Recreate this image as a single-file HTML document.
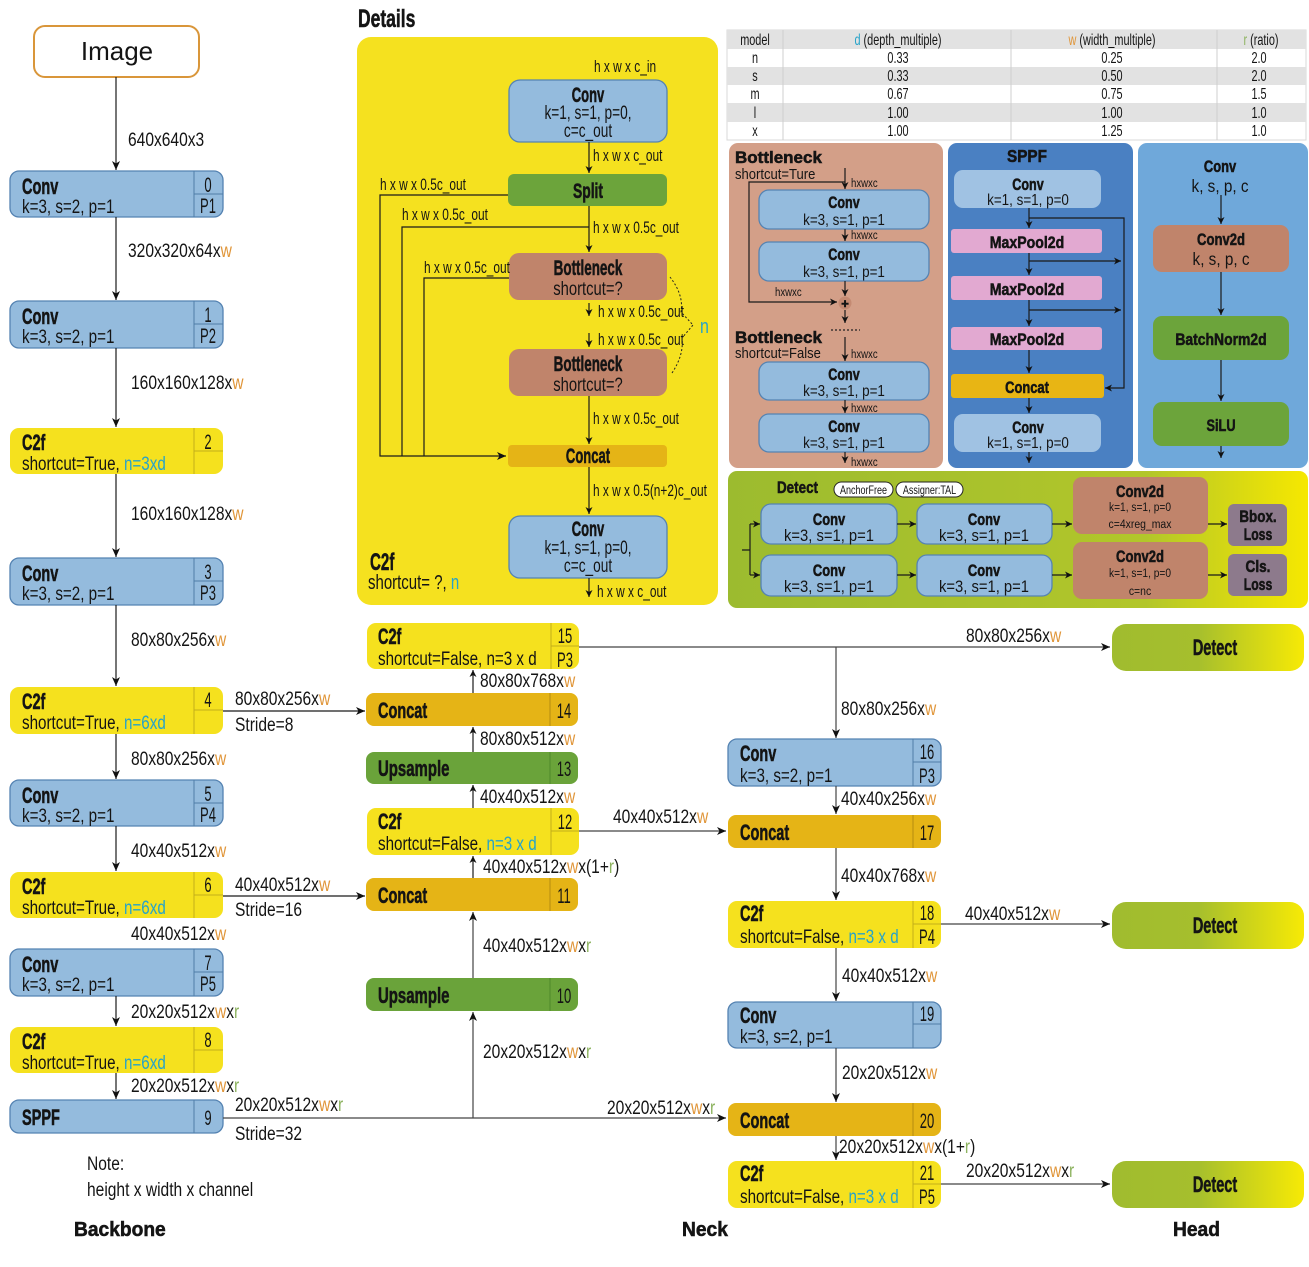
<!DOCTYPE html>
<html><head><meta charset="utf-8"><style>
html,body{margin:0;padding:0;background:#fff;}
svg{display:block;}
text{font-family:"Liberation Sans",sans-serif;fill:#141414;}
.B{font-weight:bold;stroke:#141414;stroke-width:0.55;}
.w{fill:#E0963A;stroke:none;} .r{fill:#8DB35F;stroke:none;} .n{fill:#27A3C9;stroke:none;}
.l{stroke:#1a1a1a;stroke-width:1.2;fill:none;}
.g{stroke:#444;stroke-width:1.2;fill:none;}
.cv{fill:#94BBDD;stroke:#5583B2;stroke-width:1.3;}
.cf{fill:#F5E11E;}
.ct{fill:#E5B416;}
.up{fill:#6AA33A;}
.dv{stroke:#4F7EA8;stroke-width:1;}
.dy{stroke:#C2AE1A;stroke-width:1;}
.dc{stroke:#B58C10;stroke-width:1;}
.dg{stroke:#4D8A2A;stroke-width:1;}
.tb text{font-size:16px;text-anchor:middle;}
</style></head><body>
<svg width="1309" height="1267" viewBox="0 0 1309 1267" xmlns="http://www.w3.org/2000/svg">
<defs>
<marker id="a" markerWidth="10" markerHeight="10" refX="9" refY="5" orient="auto" markerUnits="userSpaceOnUse"><path d="M0,1 L9,5 L0,9 L2.5,5z" fill="#111"/></marker>
<marker id="m" markerWidth="8" markerHeight="8" refX="7" refY="4" orient="auto" markerUnits="userSpaceOnUse"><path d="M0,0.5 L7,4 L0,7.5 L2,4z" fill="#111"/></marker>
<linearGradient id="gd" x1="0" x2="1" y1="0" y2="0"><stop offset="0" stop-color="#A0BC2F"/><stop offset="0.45" stop-color="#A6BF2D"/><stop offset="1" stop-color="#F7EA05"/></linearGradient>
<linearGradient id="gp" x1="0" x2="1" y1="0" y2="0"><stop offset="0" stop-color="#9CBB2F"/><stop offset="0.72" stop-color="#B2C62A"/><stop offset="1" stop-color="#F6E800"/></linearGradient>
</defs>

<!-- ============ BACKBONE ============ -->
<rect x="34" y="26" width="165" height="51" rx="11" fill="#fff" stroke="#D9963A" stroke-width="2"/>
<text font-size="26" text-anchor="middle" transform="translate(117,60)">Image</text>

<path class="l" d="M116,77 V170" marker-end="url(#a)"/>
<text font-size="19" transform="translate(128,146) scale(.82,1)">640x640x3</text>

<rect class="cv" x="10" y="171" width="213" height="46" rx="9"/>
<line class="dv" x1="194" y1="171" x2="194" y2="217"/><line class="dv" x1="194" y1="194" x2="223" y2="194"/>
<text class="B" font-size="22" transform="translate(22,194) scale(.66,1)">Conv</text>
<text font-size="19" transform="translate(22,213) scale(.8,1)">k=3, s=2, p=1</text>
<text font-size="21" text-anchor="middle" transform="translate(208,192) scale(.62,1)">0</text>
<text font-size="21" text-anchor="middle" transform="translate(208,213) scale(.62,1)">P1</text>

<path class="l" d="M116,217 V300" marker-end="url(#a)"/>
<text font-size="19" transform="translate(128,257) scale(.82,1)">320x320x64x<tspan class="w">w</tspan></text>

<rect class="cv" x="10" y="301" width="213" height="47" rx="9"/>
<line class="dv" x1="194" y1="301" x2="194" y2="348"/><line class="dv" x1="194" y1="324" x2="223" y2="324"/>
<text class="B" font-size="22" transform="translate(22,324) scale(.66,1)">Conv</text>
<text font-size="19" transform="translate(22,343) scale(.8,1)">k=3, s=2, p=1</text>
<text font-size="21" text-anchor="middle" transform="translate(208,322) scale(.62,1)">1</text>
<text font-size="21" text-anchor="middle" transform="translate(208,343) scale(.62,1)">P2</text>

<path class="l" d="M116,348 V427" marker-end="url(#a)"/>
<text font-size="19" transform="translate(131,389) scale(.82,1)">160x160x128x<tspan class="w">w</tspan></text>

<rect class="cf" x="10" y="428" width="213" height="46" rx="9"/>
<line class="dy" x1="194" y1="428" x2="194" y2="474"/><line class="dy" x1="194" y1="451" x2="223" y2="451"/>
<text class="B" font-size="22" transform="translate(22,450) scale(.66,1)">C2f</text>
<text font-size="19" transform="translate(22,470) scale(.8,1)">shortcut=True, <tspan class="n">n=3xd</tspan></text>
<text font-size="21" text-anchor="middle" transform="translate(208,449) scale(.62,1)">2</text>

<path class="l" d="M116,474 V557" marker-end="url(#a)"/>
<text font-size="19" transform="translate(131,520) scale(.82,1)">160x160x128x<tspan class="w">w</tspan></text>

<rect class="cv" x="10" y="558" width="213" height="47" rx="9"/>
<line class="dv" x1="194" y1="558" x2="194" y2="605"/><line class="dv" x1="194" y1="581" x2="223" y2="581"/>
<text class="B" font-size="22" transform="translate(22,581) scale(.66,1)">Conv</text>
<text font-size="19" transform="translate(22,600) scale(.8,1)">k=3, s=2, p=1</text>
<text font-size="21" text-anchor="middle" transform="translate(208,579) scale(.62,1)">3</text>
<text font-size="21" text-anchor="middle" transform="translate(208,600) scale(.62,1)">P3</text>

<path class="l" d="M116,605 V686" marker-end="url(#a)"/>
<text font-size="19" transform="translate(131,646) scale(.82,1)">80x80x256x<tspan class="w">w</tspan></text>

<rect class="cf" x="10" y="687" width="213" height="47" rx="9"/>
<line class="dy" x1="194" y1="687" x2="194" y2="734"/><line class="dy" x1="194" y1="710" x2="223" y2="710"/>
<text class="B" font-size="22" transform="translate(22,709) scale(.66,1)">C2f</text>
<text font-size="19" transform="translate(22,729) scale(.8,1)">shortcut=True, <tspan class="n">n=6xd</tspan></text>
<text font-size="21" text-anchor="middle" transform="translate(208,707) scale(.62,1)">4</text>
<path class="l" d="M223,711 H365" marker-end="url(#a)"/>
<text font-size="19" transform="translate(235,705) scale(.82,1)">80x80x256x<tspan class="w">w</tspan></text>
<text font-size="19" transform="translate(235,731) scale(.82,1)">Stride=8</text>

<path class="l" d="M116,734 V779" marker-end="url(#a)"/>
<text font-size="19" transform="translate(131,765) scale(.82,1)">80x80x256x<tspan class="w">w</tspan></text>

<rect class="cv" x="10" y="780" width="213" height="46" rx="9"/>
<line class="dv" x1="194" y1="780" x2="194" y2="826"/><line class="dv" x1="194" y1="803" x2="223" y2="803"/>
<text class="B" font-size="22" transform="translate(22,803) scale(.66,1)">Conv</text>
<text font-size="19" transform="translate(22,822) scale(.8,1)">k=3, s=2, p=1</text>
<text font-size="21" text-anchor="middle" transform="translate(208,801) scale(.62,1)">5</text>
<text font-size="21" text-anchor="middle" transform="translate(208,822) scale(.62,1)">P4</text>

<path class="l" d="M116,826 V871" marker-end="url(#a)"/>
<text font-size="19" transform="translate(131,857) scale(.82,1)">40x40x512x<tspan class="w">w</tspan></text>

<rect class="cf" x="10" y="872" width="213" height="46" rx="9"/>
<line class="dy" x1="194" y1="872" x2="194" y2="918"/><line class="dy" x1="194" y1="895" x2="223" y2="895"/>
<text class="B" font-size="22" transform="translate(22,894) scale(.66,1)">C2f</text>
<text font-size="19" transform="translate(22,914) scale(.8,1)">shortcut=True, <tspan class="n">n=6xd</tspan></text>
<text font-size="21" text-anchor="middle" transform="translate(208,892) scale(.62,1)">6</text>
<path class="l" d="M223,896 H365" marker-end="url(#a)"/>
<text font-size="19" transform="translate(235,891) scale(.82,1)">40x40x512x<tspan class="w">w</tspan></text>
<text font-size="19" transform="translate(235,916) scale(.82,1)">Stride=16</text>

<text font-size="19" transform="translate(131,940) scale(.82,1)">40x40x512x<tspan class="w">w</tspan></text>

<rect class="cv" x="10" y="949" width="213" height="47" rx="9"/>
<line class="dv" x1="194" y1="949" x2="194" y2="996"/><line class="dv" x1="194" y1="972" x2="223" y2="972"/>
<text class="B" font-size="22" transform="translate(22,972) scale(.66,1)">Conv</text>
<text font-size="19" transform="translate(22,991) scale(.8,1)">k=3, s=2, p=1</text>
<text font-size="21" text-anchor="middle" transform="translate(208,970) scale(.62,1)">7</text>
<text font-size="21" text-anchor="middle" transform="translate(208,991) scale(.62,1)">P5</text>

<path class="l" d="M116,996 V1026" marker-end="url(#a)"/>
<text font-size="19" transform="translate(131,1018) scale(.82,1)">20x20x512x<tspan class="w">w</tspan>x<tspan class="r">r</tspan></text>

<rect class="cf" x="10" y="1027" width="213" height="46" rx="9"/>
<line class="dy" x1="194" y1="1027" x2="194" y2="1073"/><line class="dy" x1="194" y1="1050" x2="223" y2="1050"/>
<text class="B" font-size="22" transform="translate(22,1049) scale(.66,1)">C2f</text>
<text font-size="19" transform="translate(22,1069) scale(.8,1)">shortcut=True, <tspan class="n">n=6xd</tspan></text>
<text font-size="21" text-anchor="middle" transform="translate(208,1047) scale(.62,1)">8</text>

<path class="l" d="M116,1073 V1099" marker-end="url(#a)"/>
<text font-size="19" transform="translate(131,1092) scale(.82,1)">20x20x512x<tspan class="w">w</tspan>x<tspan class="r">r</tspan></text>

<rect class="cv" x="10" y="1100" width="213" height="33" rx="9"/>
<line class="dv" x1="194" y1="1100" x2="194" y2="1133"/>
<text class="B" font-size="22" transform="translate(22,1125) scale(.66,1)">SPPF</text>
<text font-size="21" text-anchor="middle" transform="translate(208,1125) scale(.62,1)">9</text>
<path class="g" d="M223,1118 H726" marker-end="url(#a)"/>
<text font-size="19" transform="translate(235,1111) scale(.82,1)">20x20x512x<tspan class="w">w</tspan>x<tspan class="r">r</tspan></text>
<text font-size="19" transform="translate(235,1140) scale(.82,1)">Stride=32</text>

<text font-size="19" transform="translate(87,1170) scale(.82,1)">Note:</text>
<text font-size="19" transform="translate(87,1196) scale(.82,1)">height x width x channel</text>
<text class="B" font-size="20" transform="translate(74,1236) scale(.96,1)">Backbone</text>

<!-- ============ NECK LEFT ============ -->
<rect class="cf" x="367" y="623" width="212" height="46" rx="9"/>
<line class="dy" x1="551" y1="623" x2="551" y2="669"/><line class="dy" x1="551" y1="646" x2="579" y2="646"/>
<text class="B" font-size="22" transform="translate(378,644) scale(.66,1)">C2f</text>
<text font-size="19" transform="translate(378,665) scale(.8,1)">shortcut=False, n=3 x d</text>
<text font-size="21" text-anchor="middle" transform="translate(565,643) scale(.62,1)">15</text>
<text font-size="21" text-anchor="middle" transform="translate(565,667) scale(.62,1)">P3</text>

<path class="l" d="M473,693 V670" marker-end="url(#m)"/>
<text font-size="19" transform="translate(480,687) scale(.82,1)">80x80x768x<tspan class="w">w</tspan></text>

<rect class="ct" x="366" y="693" width="212" height="33" rx="8"/>
<line class="dc" x1="550" y1="693" x2="550" y2="726"/>
<text class="B" font-size="22" transform="translate(378,718) scale(.66,1)">Concat</text>
<text font-size="21" text-anchor="middle" transform="translate(564,718) scale(.62,1)">14</text>

<path class="l" d="M473,752 V727" marker-end="url(#m)"/>
<text font-size="19" transform="translate(480,745) scale(.82,1)">80x80x512x<tspan class="w">w</tspan></text>

<rect class="up" x="366" y="752" width="212" height="32" rx="8"/>
<line class="dg" x1="550" y1="752" x2="550" y2="784"/>
<text class="B" font-size="22" transform="translate(378,776) scale(.68,1)">Upsample</text>
<text font-size="21" text-anchor="middle" transform="translate(564,776) scale(.62,1)">13</text>

<path class="l" d="M473,808 V785" marker-end="url(#m)"/>
<text font-size="19" transform="translate(480,803) scale(.82,1)">40x40x512x<tspan class="w">w</tspan></text>

<rect class="cf" x="367" y="808" width="212" height="47" rx="9"/>
<line class="dy" x1="551" y1="808" x2="551" y2="855"/><line class="dy" x1="551" y1="831" x2="579" y2="831"/>
<text class="B" font-size="22" transform="translate(378,829) scale(.66,1)">C2f</text>
<text font-size="19" transform="translate(378,850) scale(.8,1)">shortcut=False, <tspan class="n">n=3 x d</tspan></text>
<text font-size="21" text-anchor="middle" transform="translate(565,829) scale(.62,1)">12</text>
<path class="g" d="M579,831 H726" marker-end="url(#a)"/>
<text font-size="19" transform="translate(613,823) scale(.82,1)">40x40x512x<tspan class="w">w</tspan></text>

<path class="l" d="M473,878 V856" marker-end="url(#m)"/>
<text font-size="19" transform="translate(483,873) scale(.82,1)">40x40x512x<tspan class="w">w</tspan>x(1+<tspan class="r">r</tspan>)</text>

<rect class="ct" x="366" y="878" width="212" height="33" rx="8"/>
<line class="dc" x1="550" y1="878" x2="550" y2="911"/>
<text class="B" font-size="22" transform="translate(378,903) scale(.66,1)">Concat</text>
<text font-size="21" text-anchor="middle" transform="translate(564,903) scale(.62,1)">11</text>

<path class="g" d="M473,978 V912" marker-end="url(#a)"/>
<text font-size="19" transform="translate(483,952) scale(.82,1)">40x40x512x<tspan class="w">w</tspan>x<tspan class="r">r</tspan></text>

<rect class="up" x="366" y="978" width="212" height="33" rx="8"/>
<line class="dg" x1="550" y1="978" x2="550" y2="1011"/>
<text class="B" font-size="22" transform="translate(378,1003) scale(.68,1)">Upsample</text>
<text font-size="21" text-anchor="middle" transform="translate(564,1003) scale(.62,1)">10</text>

<path class="g" d="M473,1118 V1012" marker-end="url(#a)"/>
<text font-size="19" transform="translate(483,1058) scale(.82,1)">20x20x512x<tspan class="w">w</tspan>x<tspan class="r">r</tspan></text>
<text font-size="19" transform="translate(607,1114) scale(.82,1)">20x20x512x<tspan class="w">w</tspan>x<tspan class="r">r</tspan></text>

<text class="B" font-size="20" transform="translate(682,1236) scale(.96,1)">Neck</text>

<!-- ============ NECK RIGHT ============ -->
<path class="g" d="M579,647 H1110" marker-end="url(#a)"/>
<text font-size="19" transform="translate(966,642) scale(.82,1)">80x80x256x<tspan class="w">w</tspan></text>
<path class="g" d="M836,647 V738" marker-end="url(#a)"/>
<text font-size="19" transform="translate(841,715) scale(.82,1)">80x80x256x<tspan class="w">w</tspan></text>

<rect class="cv" x="728" y="739" width="213" height="47" rx="9"/>
<line class="dv" x1="913" y1="739" x2="913" y2="786"/><line class="dv" x1="913" y1="762" x2="941" y2="762"/>
<text class="B" font-size="22" transform="translate(740,761) scale(.66,1)">Conv</text>
<text font-size="19" transform="translate(740,782) scale(.8,1)">k=3, s=2, p=1</text>
<text font-size="21" text-anchor="middle" transform="translate(927,759) scale(.62,1)">16</text>
<text font-size="21" text-anchor="middle" transform="translate(927,783) scale(.62,1)">P3</text>

<path class="g" d="M836,786 V814" marker-end="url(#a)"/>
<text font-size="19" transform="translate(841,805) scale(.82,1)">40x40x256x<tspan class="w">w</tspan></text>

<rect class="ct" x="728" y="815" width="213" height="33" rx="8"/>
<line class="dc" x1="913" y1="815" x2="913" y2="848"/>
<text class="B" font-size="22" transform="translate(740,840) scale(.66,1)">Concat</text>
<text font-size="21" text-anchor="middle" transform="translate(927,840) scale(.62,1)">17</text>

<path class="g" d="M836,848 V900" marker-end="url(#a)"/>
<text font-size="19" transform="translate(841,882) scale(.82,1)">40x40x768x<tspan class="w">w</tspan></text>

<rect class="cf" x="728" y="901" width="213" height="47" rx="9"/>
<line class="dy" x1="913" y1="901" x2="913" y2="948"/><line class="dy" x1="913" y1="924" x2="941" y2="924"/>
<text class="B" font-size="22" transform="translate(740,921) scale(.66,1)">C2f</text>
<text font-size="19" transform="translate(740,943) scale(.8,1)">shortcut=False, <tspan class="n">n=3 x d</tspan></text>
<text font-size="21" text-anchor="middle" transform="translate(927,920) scale(.62,1)">18</text>
<text font-size="21" text-anchor="middle" transform="translate(927,944) scale(.62,1)">P4</text>
<path class="g" d="M941,924 H1110" marker-end="url(#a)"/>
<text font-size="19" transform="translate(965,920) scale(.82,1)">40x40x512x<tspan class="w">w</tspan></text>

<path class="g" d="M836,948 V1001" marker-end="url(#a)"/>
<text font-size="19" transform="translate(842,982) scale(.82,1)">40x40x512x<tspan class="w">w</tspan></text>

<rect class="cv" x="728" y="1002" width="213" height="46" rx="9"/>
<line class="dv" x1="913" y1="1002" x2="913" y2="1048"/><line class="dv" x1="913" y1="1024" x2="941" y2="1024"/>
<text class="B" font-size="22" transform="translate(740,1023) scale(.66,1)">Conv</text>
<text font-size="19" transform="translate(740,1043) scale(.8,1)">k=3, s=2, p=1</text>
<text font-size="21" text-anchor="middle" transform="translate(927,1021) scale(.62,1)">19</text>

<path class="g" d="M836,1048 V1102" marker-end="url(#a)"/>
<text font-size="19" transform="translate(842,1079) scale(.82,1)">20x20x512x<tspan class="w">w</tspan></text>

<rect class="ct" x="728" y="1103" width="213" height="33" rx="8"/>
<line class="dc" x1="913" y1="1103" x2="913" y2="1136"/>
<text class="B" font-size="22" transform="translate(740,1128) scale(.66,1)">Concat</text>
<text font-size="21" text-anchor="middle" transform="translate(927,1128) scale(.62,1)">20</text>

<path class="g" d="M836,1136 V1160" marker-end="url(#a)"/>
<text font-size="19" transform="translate(839,1153) scale(.82,1)">20x20x512x<tspan class="w">w</tspan>x(1+<tspan class="r">r</tspan>)</text>

<rect class="cf" x="728" y="1161" width="213" height="47" rx="9"/>
<line class="dy" x1="913" y1="1161" x2="913" y2="1208"/><line class="dy" x1="913" y1="1184" x2="941" y2="1184"/>
<text class="B" font-size="22" transform="translate(740,1181) scale(.66,1)">C2f</text>
<text font-size="19" transform="translate(740,1203) scale(.8,1)">shortcut=False, <tspan class="n">n=3 x d</tspan></text>
<text font-size="21" text-anchor="middle" transform="translate(927,1180) scale(.62,1)">21</text>
<text font-size="21" text-anchor="middle" transform="translate(927,1204) scale(.62,1)">P5</text>
<path class="g" d="M941,1184 H1110" marker-end="url(#a)"/>
<text font-size="19" transform="translate(966,1177) scale(.82,1)">20x20x512x<tspan class="w">w</tspan>x<tspan class="r">r</tspan></text>

<!-- ============ HEAD ============ -->
<rect x="1112" y="624" width="192" height="47" rx="14" fill="url(#gd)"/>
<text class="B" font-size="22" text-anchor="middle" transform="translate(1215,655) scale(.66,1)">Detect</text>
<rect x="1112" y="902" width="192" height="47" rx="14" fill="url(#gd)"/>
<text class="B" font-size="22" text-anchor="middle" transform="translate(1215,933) scale(.66,1)">Detect</text>
<rect x="1112" y="1161" width="192" height="47" rx="14" fill="url(#gd)"/>
<text class="B" font-size="22" text-anchor="middle" transform="translate(1215,1192) scale(.66,1)">Detect</text>
<text class="B" font-size="20" transform="translate(1173,1236) scale(.96,1)">Head</text>

<!-- ============ DETAILS C2f ============ -->
<text class="B" font-size="25" transform="translate(358,27) scale(.7,1)">Details</text>
<rect x="357" y="37" width="361" height="568" rx="14" fill="#F5E11F"/>
<text font-size="17" transform="translate(594,72) scale(.7,1)">h x w x c_in</text>
<rect class="cv" x="509" y="80" width="158" height="62" rx="11"/>
<text class="B" font-size="21" text-anchor="middle" transform="translate(588,102) scale(.62,1)">Conv</text>
<text font-size="19" text-anchor="middle" transform="translate(588,119) scale(.72,1)">k=1, s=1, p=0,</text>
<text font-size="19" text-anchor="middle" transform="translate(588,137) scale(.72,1)">c=c_out</text>
<path class="l" d="M589,142 V173" marker-end="url(#m)"/>
<text font-size="17" transform="translate(593,161) scale(.7,1)">h x w x c_out</text>
<rect x="508" y="174" width="159" height="32" rx="6" fill="#6CA43B"/>
<text class="B" font-size="21" text-anchor="middle" transform="translate(588,198) scale(.66,1)">Split</text>
<path class="l" d="M508,195 H380 V456 H506" marker-end="url(#a)"/>
<text font-size="17" transform="translate(380,190) scale(.7,1)">h x w x 0.5c_out</text>
<path class="l" d="M589,227 H402 V456"/>
<text font-size="17" transform="translate(402,220) scale(.7,1)">h x w x 0.5c_out</text>
<path class="l" d="M589,206 V252" marker-end="url(#m)"/>
<text font-size="17" transform="translate(593,233) scale(.7,1)">h x w x 0.5c_out</text>
<rect x="509" y="253" width="158" height="47" rx="10" fill="#C0846B"/>
<text class="B" font-size="21" text-anchor="middle" transform="translate(588,275) scale(.64,1)">Bottleneck</text>
<text font-size="19" text-anchor="middle" transform="translate(588,295) scale(.78,1)">shortcut=?</text>
<path class="l" d="M509,278 H424 V456"/>
<text font-size="17" transform="translate(424,273) scale(.7,1)">h x w x 0.5c_out</text>
<path class="l" d="M589,303 V316" marker-end="url(#m)"/>
<text font-size="17" transform="translate(598,317) scale(.7,1)">h x w x 0.5c_out</text>
<path class="l" d="M589,333 V347" marker-end="url(#m)"/>
<text font-size="17" transform="translate(598,345) scale(.7,1)">h x w x 0.5c_out</text>
<rect x="509" y="349" width="158" height="47" rx="10" fill="#C0846B"/>
<text class="B" font-size="21" text-anchor="middle" transform="translate(588,371) scale(.64,1)">Bottleneck</text>
<text font-size="19" text-anchor="middle" transform="translate(588,391) scale(.78,1)">shortcut=?</text>
<path d="M670,277 Q684,295 681,312 L693,325 M672,373 Q684,355 682,338 L693,325" stroke="#222" stroke-width="1" stroke-dasharray="2,2" fill="none"/>
<text font-size="20" class="n" transform="translate(700,333) scale(.8,1)">n</text>
<path class="l" d="M589,396 V444" marker-end="url(#m)"/>
<text font-size="17" transform="translate(593,424) scale(.7,1)">h x w x 0.5c_out</text>
<rect x="508" y="445" width="159" height="22" rx="4" fill="#E5B416"/>
<text class="B" font-size="21" text-anchor="middle" transform="translate(588,463) scale(.62,1)">Concat</text>
<path class="l" d="M589,467 V514" marker-end="url(#m)"/>
<text font-size="17" transform="translate(593,496) scale(.7,1)">h x w x 0.5(n+2)c_out</text>
<rect class="cv" x="509" y="516" width="158" height="62" rx="11"/>
<text class="B" font-size="21" text-anchor="middle" transform="translate(588,536) scale(.62,1)">Conv</text>
<text font-size="19" text-anchor="middle" transform="translate(588,554) scale(.72,1)">k=1, s=1, p=0,</text>
<text font-size="19" text-anchor="middle" transform="translate(588,572) scale(.72,1)">c=c_out</text>
<path class="l" d="M589,578 V597" marker-end="url(#m)"/>
<text font-size="17" transform="translate(597,597) scale(.7,1)">h x w x c_out</text>
<text class="B" font-size="24" transform="translate(370,570) scale(.63,1)">C2f</text>
<text font-size="20" transform="translate(368,589) scale(.75,1)">shortcut= ?, <tspan class="n">n</tspan></text>

<!-- ============ TABLE ============ -->
<rect x="727" y="30" width="579" height="110" fill="#fff" stroke="#D8D8D8" stroke-width="1"/>
<rect x="727" y="30" width="579" height="19" fill="#E2E2E2"/>
<rect x="727" y="67" width="579" height="18" fill="#E2E2E2"/>
<rect x="727" y="103" width="579" height="19" fill="#E2E2E2"/>
<line x1="783" y1="30" x2="783" y2="140" stroke="#CFCFCF"/>
<line x1="1011" y1="30" x2="1011" y2="140" stroke="#CFCFCF"/>
<line x1="1217" y1="30" x2="1217" y2="140" stroke="#CFCFCF"/>
<g class="tb">
<text font-size="16" text-anchor="middle" transform="translate(755,45) scale(.68,1)">model</text>
<text font-size="16" text-anchor="middle" transform="translate(898,45) scale(.68,1)"><tspan class="n">d</tspan> (depth_multiple)</text>
<text font-size="16" text-anchor="middle" transform="translate(1112,45) scale(.68,1)"><tspan class="w">w</tspan> (width_multiple)</text>
<text font-size="16" text-anchor="middle" transform="translate(1261,45) scale(.68,1)"><tspan class="r">r</tspan> (ratio)</text>
<text font-size="16" text-anchor="middle" transform="translate(755,63) scale(.68,1)">n</text><text font-size="16" text-anchor="middle" transform="translate(898,63) scale(.68,1)">0.33</text><text font-size="16" text-anchor="middle" transform="translate(1112,63) scale(.68,1)">0.25</text><text font-size="16" text-anchor="middle" transform="translate(1259,63) scale(.68,1)">2.0</text>
<text font-size="16" text-anchor="middle" transform="translate(755,81) scale(.68,1)">s</text><text font-size="16" text-anchor="middle" transform="translate(898,81) scale(.68,1)">0.33</text><text font-size="16" text-anchor="middle" transform="translate(1112,81) scale(.68,1)">0.50</text><text font-size="16" text-anchor="middle" transform="translate(1259,81) scale(.68,1)">2.0</text>
<text font-size="16" text-anchor="middle" transform="translate(755,99) scale(.68,1)">m</text><text font-size="16" text-anchor="middle" transform="translate(898,99) scale(.68,1)">0.67</text><text font-size="16" text-anchor="middle" transform="translate(1112,99) scale(.68,1)">0.75</text><text font-size="16" text-anchor="middle" transform="translate(1259,99) scale(.68,1)">1.5</text>
<text font-size="16" text-anchor="middle" transform="translate(755,118) scale(.68,1)">l</text><text font-size="16" text-anchor="middle" transform="translate(898,118) scale(.68,1)">1.00</text><text font-size="16" text-anchor="middle" transform="translate(1112,118) scale(.68,1)">1.00</text><text font-size="16" text-anchor="middle" transform="translate(1259,118) scale(.68,1)">1.0</text>
<text font-size="16" text-anchor="middle" transform="translate(755,136) scale(.68,1)">x</text><text font-size="16" text-anchor="middle" transform="translate(898,136) scale(.68,1)">1.00</text><text font-size="16" text-anchor="middle" transform="translate(1112,136) scale(.68,1)">1.25</text><text font-size="16" text-anchor="middle" transform="translate(1259,136) scale(.68,1)">1.0</text>
</g>

<!-- ============ BOTTLENECK PANEL ============ -->
<rect x="729" y="143" width="214" height="325" rx="9" fill="#D39F88"/>
<text class="B" font-size="17" transform="translate(735,163)">Bottleneck</text>
<text font-size="15" transform="translate(735,179) scale(.87,1)">shortcut=Ture</text>
<path class="l" d="M845,168 V189" marker-end="url(#m)"/>
<text font-size="12" transform="translate(851,187) scale(.8,1)">hxwxc</text>
<path class="l" d="M845,182 H749 V302 H837" marker-end="url(#m)"/>
<text font-size="12" transform="translate(775,296) scale(.8,1)">hxwxc</text>
<rect class="cv" x="759" y="190" width="170" height="39" rx="10"/>
<text class="B" font-size="17" text-anchor="middle" transform="translate(844,208) scale(.74,1)">Conv</text>
<text font-size="16" text-anchor="middle" transform="translate(844,225) scale(.84,1)">k=3, s=1, p=1</text>
<path class="l" d="M845,229 V241" marker-end="url(#m)"/>
<text font-size="12" transform="translate(851,239) scale(.8,1)">hxwxc</text>
<rect class="cv" x="759" y="242" width="170" height="39" rx="10"/>
<text class="B" font-size="17" text-anchor="middle" transform="translate(844,260) scale(.74,1)">Conv</text>
<text font-size="16" text-anchor="middle" transform="translate(844,277) scale(.84,1)">k=3, s=1, p=1</text>
<path class="l" d="M845,281 V296" marker-end="url(#m)"/>
<circle cx="845" cy="303" r="6.5" fill="#C48A72"/>
<text class="B" font-size="13" text-anchor="middle" transform="translate(845,308)">+</text>
<path class="l" d="M845,310 V323" marker-end="url(#m)"/>
<path d="M831,330 H860" stroke="#222" stroke-width="1.2" stroke-dasharray="2,2"/>
<text class="B" font-size="17" transform="translate(735,343)">Bottleneck</text>
<text font-size="15" transform="translate(735,358) scale(.87,1)">shortcut=False</text>
<path class="l" d="M845,337 V361" marker-end="url(#m)"/>
<text font-size="12" transform="translate(851,358) scale(.8,1)">hxwxc</text>
<rect class="cv" x="759" y="362" width="170" height="38" rx="10"/>
<text class="B" font-size="17" text-anchor="middle" transform="translate(844,380) scale(.74,1)">Conv</text>
<text font-size="16" text-anchor="middle" transform="translate(844,396) scale(.84,1)">k=3, s=1, p=1</text>
<path class="l" d="M845,400 V413" marker-end="url(#m)"/>
<text font-size="12" transform="translate(851,412) scale(.8,1)">hxwxc</text>
<rect class="cv" x="759" y="414" width="170" height="38" rx="10"/>
<text class="B" font-size="17" text-anchor="middle" transform="translate(844,432) scale(.74,1)">Conv</text>
<text font-size="16" text-anchor="middle" transform="translate(844,448) scale(.84,1)">k=3, s=1, p=1</text>
<path class="l" d="M845,452 V463" marker-end="url(#m)"/>
<text font-size="12" transform="translate(851,466) scale(.8,1)">hxwxc</text>

<!-- ============ SPPF PANEL ============ -->
<rect x="948" y="143" width="185" height="325" rx="9" fill="#4A80C2"/>
<text class="B" font-size="18" text-anchor="middle" transform="translate(1027,162) scale(.85,1)">SPPF</text>
<rect x="954" y="170" width="147" height="38" rx="9" fill="#A0C2E3"/>
<text class="B" font-size="17" text-anchor="middle" transform="translate(1028,190) scale(.74,1)">Conv</text>
<text font-size="16" text-anchor="middle" transform="translate(1028,205) scale(.84,1)">k=1, s=1, p=0</text>
<path class="l" d="M1029,208 V228" marker-end="url(#m)"/>
<path class="l" d="M1029,218 H1124 V388 H1105" marker-end="url(#m)"/>
<rect x="951" y="229" width="151" height="24" rx="3" fill="#E2A9D1"/>
<text class="B" font-size="17" text-anchor="middle" transform="translate(1027,248) scale(.83,1)">MaxPool2d</text>
<path class="l" d="M1029,253 V275" marker-end="url(#m)"/>
<path class="l" d="M1029,261 H1121" marker-end="url(#m)"/>
<rect x="951" y="276" width="151" height="24" rx="3" fill="#E2A9D1"/>
<text class="B" font-size="17" text-anchor="middle" transform="translate(1027,295) scale(.83,1)">MaxPool2d</text>
<path class="l" d="M1029,300 V326" marker-end="url(#m)"/>
<path class="l" d="M1029,310 H1121" marker-end="url(#m)"/>
<rect x="951" y="327" width="151" height="23" rx="3" fill="#E2A9D1"/>
<text class="B" font-size="17" text-anchor="middle" transform="translate(1027,345) scale(.83,1)">MaxPool2d</text>
<path class="l" d="M1029,350 V373" marker-end="url(#m)"/>
<rect x="951" y="374" width="153" height="24" rx="3" fill="#E8B514"/>
<text class="B" font-size="17" text-anchor="middle" transform="translate(1027,393) scale(.76,1)">Concat</text>
<path class="l" d="M1029,398 V413" marker-end="url(#m)"/>
<rect x="954" y="414" width="147" height="38" rx="9" fill="#A0C2E3"/>
<text class="B" font-size="17" text-anchor="middle" transform="translate(1028,433) scale(.74,1)">Conv</text>
<text font-size="16" text-anchor="middle" transform="translate(1028,448) scale(.84,1)">k=1, s=1, p=0</text>
<path class="l" d="M1029,452 V463" marker-end="url(#m)"/>

<!-- ============ CONV PANEL ============ -->
<rect x="1138" y="143" width="170" height="325" rx="9" fill="#6FA8DA"/>
<text class="B" font-size="17" text-anchor="middle" transform="translate(1220,172) scale(.76,1)">Conv</text>
<text font-size="18" text-anchor="middle" transform="translate(1220,192) scale(.85,1)">k, s, p, c</text>
<path class="l" d="M1221,195 V224" marker-end="url(#m)"/>
<rect x="1153" y="225" width="136" height="47" rx="9" fill="#C0846B"/>
<text class="B" font-size="17" text-anchor="middle" transform="translate(1221,245) scale(.77,1)">Conv2d</text>
<text font-size="18" text-anchor="middle" transform="translate(1221,265) scale(.85,1)">k, s, p, c</text>
<path class="l" d="M1221,272 V315" marker-end="url(#m)"/>
<rect x="1153" y="316" width="136" height="44" rx="9" fill="#6CA43B"/>
<text class="B" font-size="17" text-anchor="middle" transform="translate(1221,345) scale(.82,1)">BatchNorm2d</text>
<path class="l" d="M1221,360 V401" marker-end="url(#m)"/>
<rect x="1153" y="402" width="136" height="44" rx="9" fill="#6CA43B"/>
<text class="B" font-size="17" text-anchor="middle" transform="translate(1221,431) scale(.75,1)">SiLU</text>
<path class="l" d="M1221,446 V458" marker-end="url(#m)"/>

<!-- ============ DETECT PANEL ============ -->
<rect x="728" y="471" width="580" height="137" rx="9" fill="url(#gp)"/>
<text class="B" font-size="17" transform="translate(777,493) scale(.79,1)">Detect</text>
<rect x="834" y="482" width="59" height="15" rx="7.5" fill="#fff" stroke="#222" stroke-width="1"/>
<text font-size="12" text-anchor="middle" transform="translate(863.5,494) scale(.75,1)">AnchorFree</text>
<rect x="896" y="482" width="67" height="15" rx="7.5" fill="#fff" stroke="#222" stroke-width="1"/>
<text font-size="12" text-anchor="middle" transform="translate(929.5,494) scale(.75,1)">Assigner:TAL</text>
<path class="l" d="M742,550 H750 M750,524 V575"/>
<path class="l" d="M750,524 H760" marker-end="url(#m)"/>
<path class="l" d="M750,575 H760" marker-end="url(#m)"/>
<rect class="cv" x="761" y="504" width="136" height="40" rx="10"/>
<text class="B" font-size="17" text-anchor="middle" transform="translate(829,525) scale(.76,1)">Conv</text>
<text font-size="17" text-anchor="middle" transform="translate(829,541) scale(.87,1)">k=3, s=1, p=1</text>
<rect class="cv" x="917" y="504" width="135" height="40" rx="10"/>
<text class="B" font-size="17" text-anchor="middle" transform="translate(984,525) scale(.76,1)">Conv</text>
<text font-size="17" text-anchor="middle" transform="translate(984,541) scale(.87,1)">k=3, s=1, p=1</text>
<rect class="cv" x="761" y="555" width="136" height="41" rx="10"/>
<text class="B" font-size="17" text-anchor="middle" transform="translate(829,576) scale(.76,1)">Conv</text>
<text font-size="17" text-anchor="middle" transform="translate(829,592) scale(.87,1)">k=3, s=1, p=1</text>
<rect class="cv" x="917" y="555" width="135" height="41" rx="10"/>
<text class="B" font-size="17" text-anchor="middle" transform="translate(984,576) scale(.76,1)">Conv</text>
<text font-size="17" text-anchor="middle" transform="translate(984,592) scale(.87,1)">k=3, s=1, p=1</text>
<path class="l" d="M897,524 H916" marker-end="url(#m)"/>
<path class="l" d="M897,575 H916" marker-end="url(#m)"/>
<path class="l" d="M1052,524 H1072" marker-end="url(#m)"/>
<path class="l" d="M1052,575 H1072" marker-end="url(#m)"/>
<rect x="1073" y="477" width="135" height="57" rx="9" fill="#C0846B"/>
<text class="B" font-size="17" text-anchor="middle" transform="translate(1140,497) scale(.77,1)">Conv2d</text>
<text font-size="12" text-anchor="middle" transform="translate(1140,511) scale(.85,1)">k=1, s=1, p=0</text>
<text font-size="12" text-anchor="middle" transform="translate(1140,528) scale(.87,1)">c=4xreg_max</text>
<rect x="1073" y="542" width="135" height="57" rx="9" fill="#C0846B"/>
<text class="B" font-size="17" text-anchor="middle" transform="translate(1140,562) scale(.77,1)">Conv2d</text>
<text font-size="12" text-anchor="middle" transform="translate(1140,577) scale(.85,1)">k=1, s=1, p=0</text>
<text font-size="12" text-anchor="middle" transform="translate(1140,595) scale(.87,1)">c=nc</text>
<path class="l" d="M1208,524 H1227" marker-end="url(#m)"/>
<path class="l" d="M1208,575 H1227" marker-end="url(#m)"/>
<rect x="1228" y="504" width="59" height="42" rx="6" fill="#8D7A8C"/>
<text class="B" font-size="17" text-anchor="middle" transform="translate(1258,522) scale(.79,1)">Bbox.</text>
<text class="B" font-size="17" text-anchor="middle" transform="translate(1258,540) scale(.72,1)">Loss</text>
<rect x="1228" y="554" width="59" height="42" rx="6" fill="#8D7A8C"/>
<text class="B" font-size="17" text-anchor="middle" transform="translate(1258,572) scale(.8,1)">Cls.</text>
<text class="B" font-size="17" text-anchor="middle" transform="translate(1258,590) scale(.72,1)">Loss</text>
</svg>
</body></html>
